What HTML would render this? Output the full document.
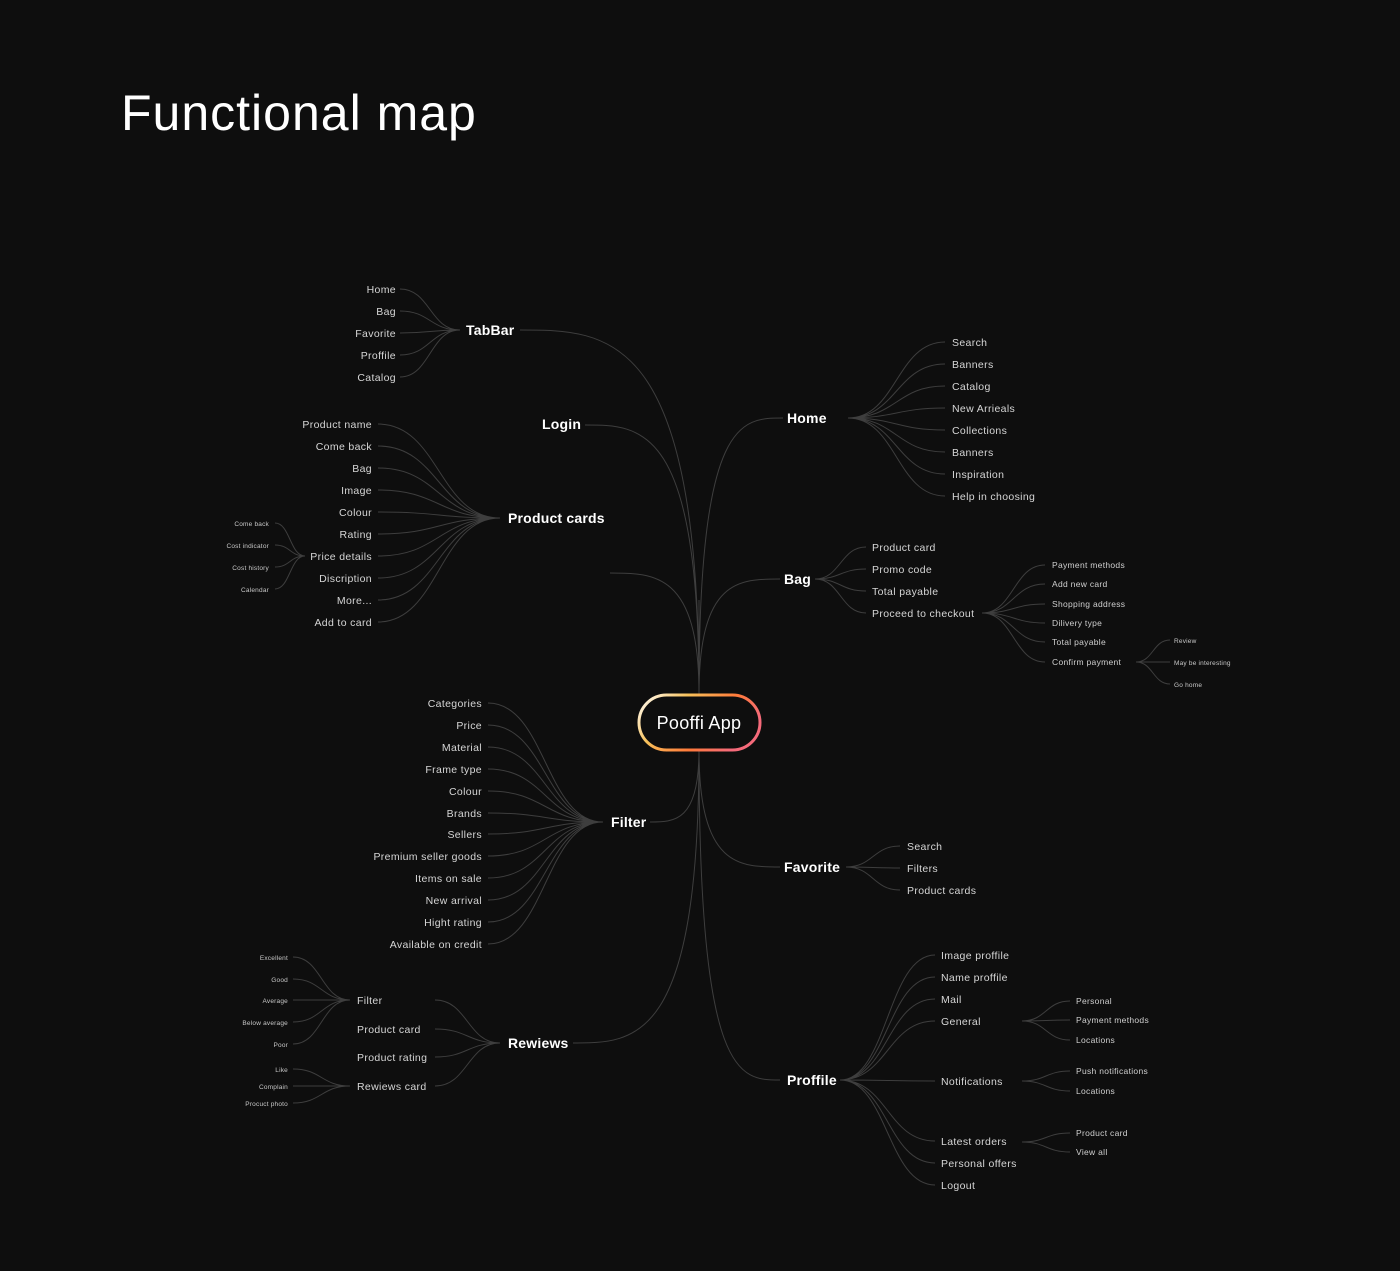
<!DOCTYPE html>
<html><head><meta charset="utf-8"><style>
html,body{margin:0;padding:0;background:#0e0e0e;}
svg{display:block}
text{font-family:"Liberation Sans",sans-serif;fill:#e8e8e8}
.m{font-size:14px;font-weight:bold;fill:#fff;letter-spacing:0.2px}
.l{font-size:10.5px;fill:#d6d6d6;letter-spacing:0.35px}
.s{font-size:8.5px;fill:#cfcfcf;letter-spacing:0.3px}
.t{font-size:6.5px;fill:#c8c8c8;letter-spacing:0.2px}
.r{text-anchor:end}
</style></head><body>
<svg id="s" width="1400" height="1271" viewBox="0 0 1400 1271">
<defs><linearGradient id="g" x1="0" y1="0" x2="1" y2="0.4">
<stop offset="0" stop-color="#ffffff"/><stop offset="0.35" stop-color="#f7c15a"/><stop offset="0.7" stop-color="#ff7a3a"/><stop offset="1" stop-color="#f56a7a"/></linearGradient></defs>
<g id="lines" fill="none" stroke="#3e3e3e" stroke-width="1"></g>
<text x="121" y="130" style="font-size:50px;fill:#fff;letter-spacing:1px">Functional map</text>

<text class="m" x="466" y="335">TabBar</text>
<text class="l r" x="396" y="293">Home</text><text class="l r" x="396" y="315">Bag</text><text class="l r" x="396" y="337">Favorite</text><text class="l r" x="396" y="359">Proffile</text><text class="l r" x="396" y="381">Catalog</text>

<text class="m" x="542" y="429">Login</text>

<text class="m" x="508" y="523">Product cards</text>
<text class="l r" x="372" y="428">Product name</text><text class="l r" x="372" y="450">Come back</text><text class="l r" x="372" y="472">Bag</text><text class="l r" x="372" y="494">Image</text><text class="l r" x="372" y="516">Colour</text><text class="l r" x="372" y="538">Rating</text><text class="l r" x="372" y="560">Price details</text><text class="l r" x="372" y="582">Discription</text><text class="l r" x="372" y="604">More...</text><text class="l r" x="372" y="626">Add to card</text>
<text class="t r" x="269" y="526">Come back</text><text class="t r" x="269" y="548">Cost indicator</text><text class="t r" x="269" y="570">Cost history</text><text class="t r" x="269" y="592">Calendar</text>

<text class="m" x="787" y="423">Home</text>
<text class="l" x="952" y="346">Search</text><text class="l" x="952" y="368">Banners</text><text class="l" x="952" y="390">Catalog</text><text class="l" x="952" y="412">New Arrieals</text><text class="l" x="952" y="434">Collections</text><text class="l" x="952" y="456">Banners</text><text class="l" x="952" y="478">Inspiration</text><text class="l" x="952" y="500">Help in choosing</text>

<text class="m" x="784" y="584">Bag</text>
<text class="l" x="872" y="551">Product card</text><text class="l" x="872" y="573">Promo code</text><text class="l" x="872" y="595">Total payable</text><text class="l" x="872" y="617">Proceed to checkout</text>
<text class="s" x="1052" y="568">Payment methods</text><text class="s" x="1052" y="587">Add new card</text><text class="s" x="1052" y="607">Shopping address</text><text class="s" x="1052" y="626">Dilivery type</text><text class="s" x="1052" y="645">Total payable</text><text class="s" x="1052" y="665">Confirm payment</text>
<text class="t" x="1174" y="643">Review</text><text class="t" x="1174" y="665">May be interesting</text><text class="t" x="1174" y="687">Go home</text>

<text class="m" x="611" y="827">Filter</text>
<text class="l r" x="482" y="707">Categories</text><text class="l r" x="482" y="729">Price</text><text class="l r" x="482" y="751">Material</text><text class="l r" x="482" y="773">Frame type</text><text class="l r" x="482" y="795">Colour</text><text class="l r" x="482" y="817">Brands</text><text class="l r" x="482" y="838">Sellers</text><text class="l r" x="482" y="860">Premium seller goods</text><text class="l r" x="482" y="882">Items on sale</text><text class="l r" x="482" y="904">New arrival</text><text class="l r" x="482" y="926">Hight rating</text><text class="l r" x="482" y="948">Available on credit</text>

<text class="m" x="784" y="872">Favorite</text>
<text class="l" x="907" y="850">Search</text><text class="l" x="907" y="872">Filters</text><text class="l" x="907" y="894">Product cards</text>

<text class="m" x="508" y="1048">Rewiews</text>
<text class="l" x="357" y="1004">Filter</text><text class="l" x="357" y="1033">Product card</text><text class="l" x="357" y="1061">Product rating</text><text class="l" x="357" y="1090">Rewiews card</text>
<text class="t r" x="288" y="960">Excellent</text><text class="t r" x="288" y="982">Good</text><text class="t r" x="288" y="1003">Average</text><text class="t r" x="288" y="1025">Below average</text><text class="t r" x="288" y="1047">Poor</text>
<text class="t r" x="288" y="1072">Like</text><text class="t r" x="288" y="1089">Complain</text><text class="t r" x="288" y="1106">Procuct photo</text>

<text class="m" x="787" y="1085">Proffile</text>
<text class="l" x="941" y="959">Image proffile</text><text class="l" x="941" y="981">Name proffile</text><text class="l" x="941" y="1003">Mail</text><text class="l" x="941" y="1025">General</text><text class="l" x="941" y="1085">Notifications</text><text class="l" x="941" y="1145">Latest orders</text><text class="l" x="941" y="1167">Personal offers</text><text class="l" x="941" y="1189">Logout</text>
<text class="s" x="1076" y="1004">Personal</text><text class="s" x="1076" y="1023">Payment methods</text><text class="s" x="1076" y="1043">Locations</text>
<text class="s" x="1076" y="1074">Push notifications</text><text class="s" x="1076" y="1094">Locations</text>
<text class="s" x="1076" y="1136">Product card</text><text class="s" x="1076" y="1155">View all</text>

<rect x="639" y="695" width="121" height="55" rx="27.5" fill="#0e0e0e" stroke="url(#g)" stroke-width="3"/>
<text x="699" y="729" text-anchor="middle" style="font-size:18px;fill:#fff;letter-spacing:0.3px">Pooffi App</text>
</svg>
<script>
var L=document.getElementById('lines'),d='';
function c(x1,y1,x2,y2){var m=(x1+x2)/2;d+='M'+x1+' '+y1+'C'+m+' '+y1+' '+m+' '+y2+' '+x2+' '+y2;}
function fan(x,y,ys,x2){ys.forEach(function(v){c(x,y,x2,v)});}
function tr(y0,xe,ye){d+='M699 '+y0+'C699 '+ye+' '+((699+xe)/2)+' '+ye+' '+xe+' '+ye;}
d+='M699 600L699 780';
tr(694,520,330);tr(694,585,425);tr(694,610,573);tr(694,783,418);tr(694,780,579);
tr(750,650,822);tr(750,780,867);tr(750,573,1043);tr(750,780,1080);
fan(460,330,[289,311,333,355,377],400);
fan(500,518,[424,446,468,490,512,534,556,578,600,622],378);
fan(305,556,[523,545,567,589],275);
fan(848,418,[342,364,386,408,430,452,474,496],945);
fan(815,579,[547,569,591,613],866);
fan(982,613,[565,584,604,623,642,662],1045);
fan(1136,662,[640,662,684],1170);
fan(603,822,[703,725,747,769,791,813,834,856,878,900,922,944],488);
fan(846,867,[846,868,890],900);
fan(500,1043,[1000,1029,1057,1086],435);
fan(350,1000,[957,979,1000,1022,1044],293);
fan(350,1086,[1069,1086,1103],293);
fan(840,1080,[955,977,999,1021,1081,1141,1163,1185],935);
fan(1022,1021,[1001,1020,1040],1070);
fan(1022,1081,[1071,1091],1070);
fan(1022,1142,[1133,1152],1070);
var p=document.createElementNS('http://www.w3.org/2000/svg','path');p.setAttribute('d',d);L.appendChild(p);
</script>
</body></html>
